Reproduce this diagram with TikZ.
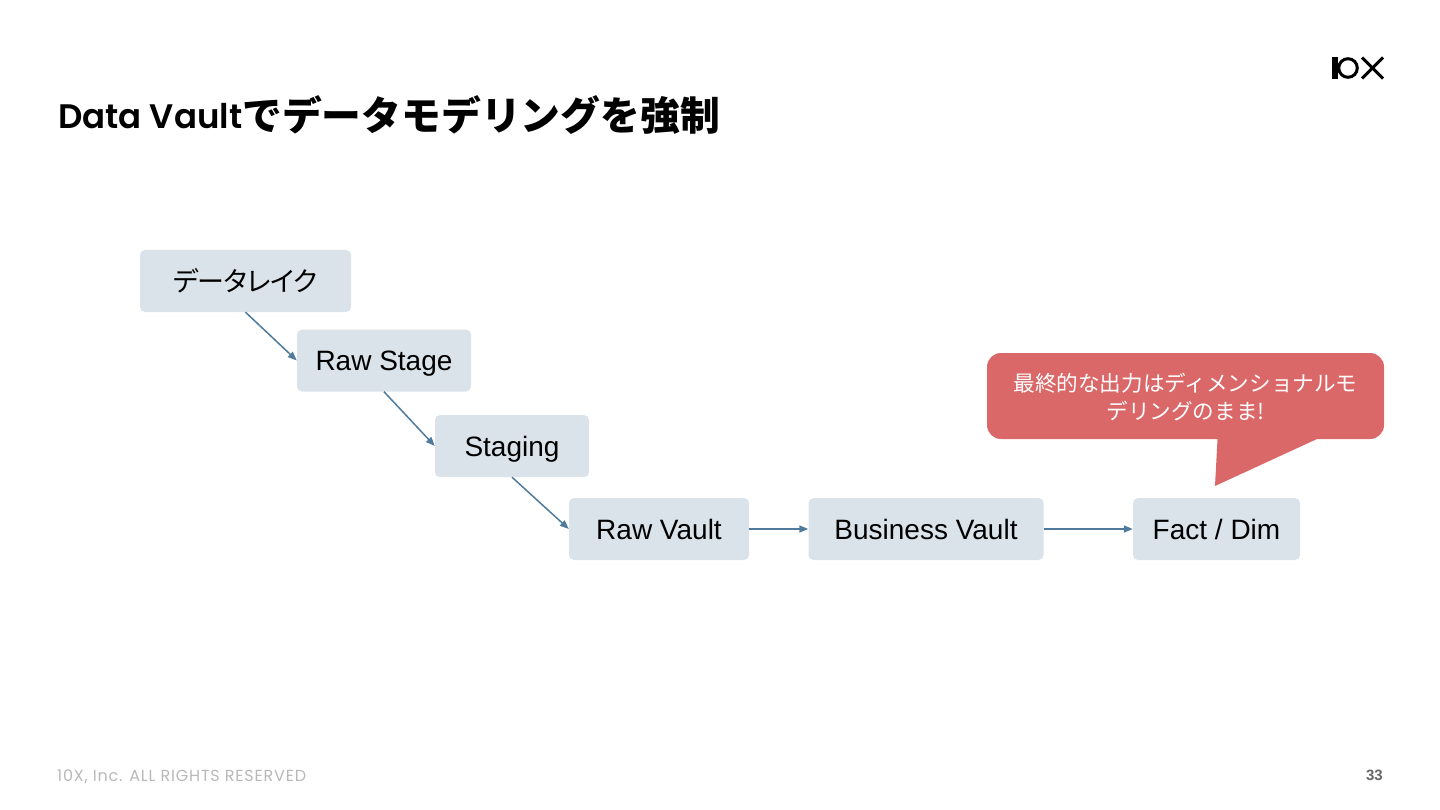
\documentclass[tikz,border=0pt]{standalone}
\usepackage{fontspec}
\setmainfont{Liberation Sans}
\newfontfamily\cjk{Noto Sans CJK JP}
\newfontfamily\cjkp{Noto Sans CJK JP}[RawFeature=+palt,LetterSpace=-1.5]
\newfontfamily\titlefont{Poppins}[BoldFont={Poppins SemiBold}]
\newfontfamily\footfont{Poppins}[LetterSpace=5]
\usetikzlibrary{arrows.meta}
\definecolor{boxfill}{HTML}{DAE3EA}
\definecolor{linkcol}{HTML}{4F7A9C}
\definecolor{callcol}{HTML}{DA6868}
\tikzset{
  x=1pt,y=-1pt,
  flowbox/.style={fill=boxfill,rounded corners=5pt,minimum height=62pt,inner sep=0pt,anchor=center,text=black,text height=20pt,text depth=0pt,font=\fontsize{28}{34}\selectfont},
  link/.style={draw=linkcol,line width=1.5pt,-{Triangle[length=9pt,width=7pt]}},
  logoline/.style={draw=black,line width=3pt}
}
\begin{document}
\begin{tikzpicture}
\useasboundingbox (0,0) rectangle (1440,810);
\node[anchor=base west,inner sep=0pt,font=\fontsize{34}{40}\selectfont] (title) at (58,129)
  {\titlefont\bfseries Data Vault\raisebox{-2pt}{\cjk\fontsize{39.8}{40}\selectfont でデータモデリングを強制}};
\node[flowbox,minimum width=211pt] (lake) at (245.5,281) {\raisebox{-1pt}{\cjkp\fontsize{27}{34}\selectfont データレイク}};
\node[flowbox,minimum width=174pt] (rawstage) at (384,360.5) {Raw Stage};
\node[flowbox,minimum width=154pt] (staging) at (512,446) {Staging};
\node[flowbox,minimum width=180pt] (rawvault) at (659,529) {Raw Vault};
\node[flowbox,minimum width=235pt] (bizvault) at (926,529) {Business Vault};
\node[flowbox,minimum width=167pt] (fact) at (1216.5,529) {Fact / Dim};
\draw[link] (lake.south) -- (rawstage.west);
\draw[link] (rawstage.south) -- (staging.west);
\draw[link] (staging.south) -- (rawvault.west);
\draw[link] (rawvault.east) -- (bizvault.west);
\draw[link] (bizvault.east) -- (fact.west);
\fill[callcol] (1218,430) -- (1215,486) -- (1317,439) -- (1317,430) -- cycle;
\node[fill=callcol,rounded corners=14pt,minimum width=397pt,minimum height=86pt,inner sep=0pt,text=white,
  font=\cjk\fontsize{21.6}{28}\selectfont] (callout) at (1185.5,396)
  {\begin{tabular}{@{}c@{}}\rule{0pt}{27.6pt}最終的な出力はディメンショナルモ\\デリングのまま!\end{tabular}};
% logo
\fill[black] (1332,57) rectangle (1337.5,79);
\draw[logoline] (1348,68) circle (9.3);
\draw[logoline] (1362,57.5) -- (1383,78.5);
\draw[logoline] (1383,57.5) -- (1362,78.5);
\node[anchor=base west,inner sep=0pt,text=black!28,font=\footfont\fontsize{16}{18}\selectfont] (foot) at (57,781) {10X, Inc. ALL RIGHTS RESERVED};
\node[anchor=base east,inner sep=0pt,text=black!60,font=\fontsize{15}{18}\selectfont\bfseries] (page) at (1383,780) {33};
\end{tikzpicture}
\end{document}
